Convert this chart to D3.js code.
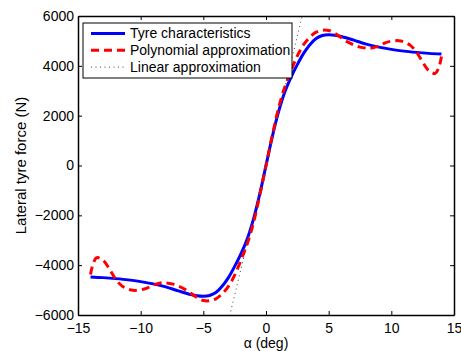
<!DOCTYPE html>
<html><head><meta charset="utf-8">
<script src="https://cdn.jsdelivr.net/npm/d3@7"></script>
<style>body{margin:0;background:#fff}svg{display:block}text{font-family:"Liberation Sans",Arial,sans-serif}</style>
</head><body>
<script>
// Data — positive side; curves are odd-symmetric
const alphaTyre = [0,0.5,1,1.5,2,2.5,3,3.5,4,4.5,5,5.5,6,7,8,9,10,11,12,13,14];
const forceTyre = [0,1150,2150,2950,3550,4050,4500,4850,5100,5220,5250,5230,5180,5030,4870,4750,4660,4590,4540,4500,4470];
const alphaPoly = [0,0.5,1,1.5,2,2.5,3,3.5,4,4.5,5,5.5,6,6.5,7,7.5,8,8.3,9,9.5,10,10.6,11,11.5,12,12.5,13,13.5,13.8,14];
const forcePoly = [0,1200,2300,3150,3800,4400,4850,5150,5350,5430,5420,5300,5130,4960,4840,4750,4710,4700,4800,4920,4990,5010,4960,4830,4560,4150,3800,3700,3950,4370];
const linearAlpha = [-2.9, 2.9];
const linearSlope = 2080;
const xTicks = [-15,-10,-5,0,5,10,15];
const yTicks = [-6000,-4000,-2000,0,2000,4000,6000];
const legendLabels = ["Tyre characteristics","Polynomial approximation","Linear approximation"];

function mirror(a, f){
  const pts=[];
  for(let i=a.length-1;i>0;i--) pts.push([-a[i],-f[i]]);
  for(let i=0;i<a.length;i++) pts.push([a[i],f[i]]);
  return pts;
}
const tyre = mirror(alphaTyre, forceTyre);
const poly = mirror(alphaPoly, forcePoly);
const lin = linearAlpha.map(a=>[a, a*linearSlope]);

const W=461,H=351;
const L=78,R=454,T=16,B=315;
const svg=d3.select("body").append("svg").attr("width",W).attr("height",H);
const x=d3.scaleLinear().domain([-15,15]).range([L,R]);
const y=d3.scaleLinear().domain([-6000,6000]).range([B,T]);

svg.append("defs").append("clipPath").attr("id","clip").append("rect")
  .attr("x",L).attr("y",T).attr("width",R-L).attr("height",B-T);

const line=d3.line().x(d=>x(d[0])).y(d=>y(d[1])).curve(d3.curveCatmullRom.alpha(0.5));
const g=svg.append("g").attr("clip-path","url(#clip)");
g.append("path").datum(tyre).attr("d",line).attr("fill","none").attr("stroke","#0000ff").attr("stroke-width",3);
g.append("path").datum(poly).attr("d",line).attr("fill","none").attr("stroke","#ff0000").attr("stroke-width",3).attr("stroke-dasharray","8,5");
g.append("path").datum(lin).attr("d",d3.line().x(d=>x(d[0])).y(d=>y(d[1]))).attr("fill","none").attr("stroke","#444").attr("stroke-width",1).attr("stroke-dasharray","1,3.5");

// axes (MATLAB box style, inward ticks)
const tk=4;
const axB=svg.append("g").attr("transform",`translate(0,${B})`).call(d3.axisBottom(x).tickValues(xTicks).tickSizeInner(-tk).tickSizeOuter(0).tickPadding(8).tickFormat(d=>String(d).replace("-","\u2212")));
const axT=svg.append("g").attr("transform",`translate(0,${T})`).call(d3.axisTop(x).tickValues(xTicks).tickSizeInner(-tk).tickSizeOuter(0).tickFormat(""));
const axL=svg.append("g").attr("transform",`translate(${L},0)`).call(d3.axisLeft(y).tickValues(yTicks).tickSizeInner(-tk).tickSizeOuter(0).tickPadding(4).tickFormat(d=>String(d).replace("-","\u2212")));
const axR=svg.append("g").attr("transform",`translate(${R},0)`).call(d3.axisRight(y).tickValues(yTicks).tickSizeInner(-tk).tickSizeOuter(0).tickFormat(""));
[axB,axT,axL,axR].forEach(a=>{
  a.selectAll(".domain").attr("stroke","#000").attr("stroke-width",1.5);
  a.selectAll(".tick line").attr("stroke","#000").attr("stroke-width",1);
  a.selectAll("text").attr("font-size",14).attr("fill","#000").attr("font-family","Liberation Sans, Arial, sans-serif");
});
axB.selectAll("text").attr("dy","0.71em");

svg.append("text").attr("x",(L+R)/2).attr("y",348).attr("text-anchor","middle").attr("font-size",14).text("\u03b1 (deg)");
svg.append("text").attr("transform",`translate(26,${(T+B)/2}) rotate(-90)`).attr("text-anchor","middle").attr("font-size",15).text("Lateral tyre force (N)");

// legend
const lg=svg.append("g");
lg.append("rect").attr("x",83).attr("y",23).attr("width",209).attr("height",55).attr("fill","#fff").attr("stroke","#000").attr("stroke-width",1);
const styles=[{c:"#0000ff",w:3,d:null},{c:"#ff0000",w:3,d:"8,5"},{c:"#444",w:1,d:"1,3.5"}];
legendLabels.forEach((t,i)=>{
  const yy=33.5+i*16.8;
  lg.append("line").attr("x1",91).attr("x2",125).attr("y1",yy).attr("y2",yy).attr("stroke",styles[i].c).attr("stroke-width",styles[i].w).attr("stroke-dasharray",styles[i].d);
  lg.append("text").attr("x",130).attr("y",yy).attr("dy","0.35em").attr("font-size",14).text(t);
});
</script>
</body></html>
